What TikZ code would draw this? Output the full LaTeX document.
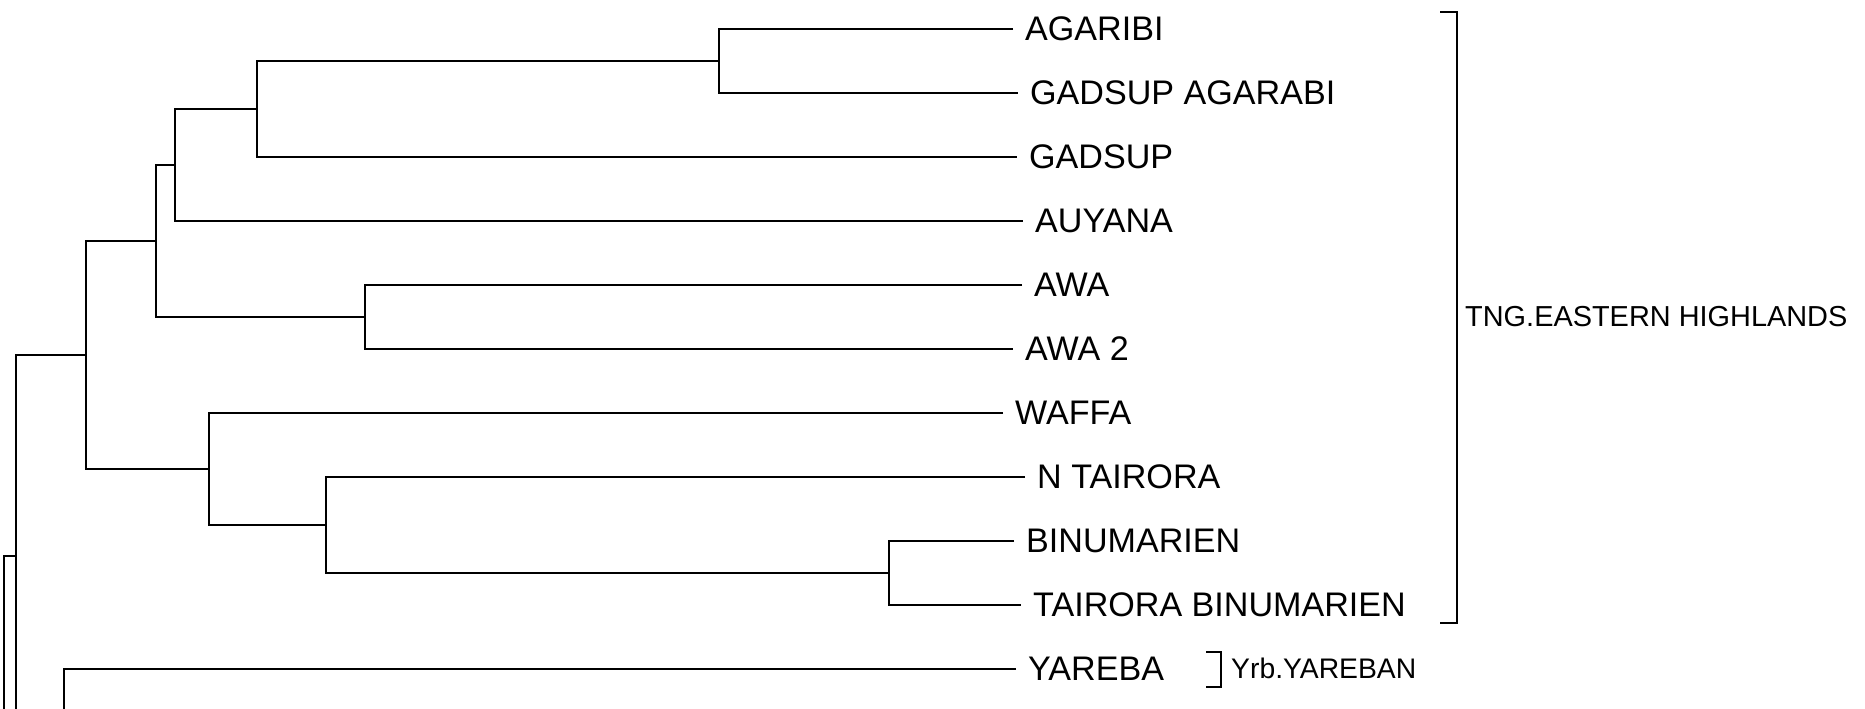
\documentclass[tikz,border=0pt]{standalone}
\usepackage{fontspec}
\setmainfont{Liberation Sans}
\begin{document}
\begin{tikzpicture}[x=1pt,y=-1pt,
  edge/.style={line width=2.4pt,line join=miter},
  brk/.style={line width=2.4pt},
  leaflab/.style={anchor=west,inner sep=0pt,font=\fontsize{34.1}{40}\selectfont,xshift=12pt},
  grouplab/.style={anchor=west,inner sep=0pt,font=\fontsize{28.9}{34}\selectfont},
  smalllab/.style={anchor=west,inner sep=0pt,font=\fontsize{28.3}{34}\selectfont}]
\useasboundingbox (0,0) rectangle (1865,709);
\fill[white] (0,0) rectangle (1865,709);
% leaf ends
\coordinate (l1) at (1013,29);
\coordinate (l2) at (1018,93);
\coordinate (l3) at (1017,157);
\coordinate (l4) at (1023,221);
\coordinate (l5) at (1022,285);
\coordinate (l6) at (1013,349);
\coordinate (l7) at (1003,413);
\coordinate (l8) at (1025,477);
\coordinate (l9) at (1014,541);
\coordinate (l10) at (1021,605);
\coordinate (l11) at (1016,669);
% labels
\node[leaflab] (t1) at (l1) {AGARIBI};
\node[leaflab] (t2) at (l2) {GADSUP AGARABI};
\node[leaflab] (t3) at (l3) {GADSUP};
\node[leaflab] (t4) at (l4) {AUYANA};
\node[leaflab] (t5) at (l5) {AWA};
\node[leaflab] (t6) at (l6) {AWA 2};
\node[leaflab] (t7) at (l7) {WAFFA};
\node[leaflab] (t8) at (l8) {N TAIRORA};
\node[leaflab] (t9) at (l9) {BINUMARIEN};
\node[leaflab] (t10) at (l10) {TAIRORA BINUMARIEN};
\node[leaflab] (t11) at (l11) {YAREBA};
% internal nodes
\coordinate (C) at (719,61);
\coordinate (B) at (257,109);
\coordinate (A) at (175,165);
\coordinate (AW) at (365,317);
\coordinate (D) at (156,241);
\coordinate (TB) at (889,573);
\coordinate (NT) at (326,525);
\coordinate (W) at (209,469);
\coordinate (E) at (86,355);
\coordinate (n16) at (16,355);
\coordinate (n16b) at (16,709);
\coordinate (r16) at (16,556);
\coordinate (root) at (4,556);
\coordinate (rootb) at (4,709);
\coordinate (Y) at (64,669);
\coordinate (Yb) at (64,709);
% edges
\draw[edge] (l1) -| (C) |- (l2);
\draw[edge] (C) -| (B) |- (l3);
\draw[edge] (B) -| (A) |- (l4);
\draw[edge] (l5) -| (AW) |- (l6);
\draw[edge] (A) -| (D) |- (AW);
\draw[edge] (l9) -| (TB) |- (l10);
\draw[edge] (l8) -| (NT) |- (TB);
\draw[edge] (l7) -| (W) |- (NT);
\draw[edge] (D) -| (E) |- (W);
\draw[edge] (E) -- (n16) -- (n16b);
\draw[edge] (r16) -- (root) -- (rootb);
\draw[edge] (l11) -- (Y) -- (Yb);
% group brackets
\coordinate (g1t) at (1440,12);
\coordinate (g1b) at (1440,623);
\draw[brk] (g1t) -- (1457,12) -- (1457,623) -- (g1b);
\node[grouplab] (g1) at (1465,317) {TNG.EASTERN HIGHLANDS};
\coordinate (g2t) at (1206,652);
\coordinate (g2b) at (1206,687);
\draw[brk] (g2t) -- (1221,652) -- (1221,687) -- (g2b);
\node[smalllab] (g2) at (1231,668) {Yrb.YAREBAN};
\end{tikzpicture}
\end{document}
